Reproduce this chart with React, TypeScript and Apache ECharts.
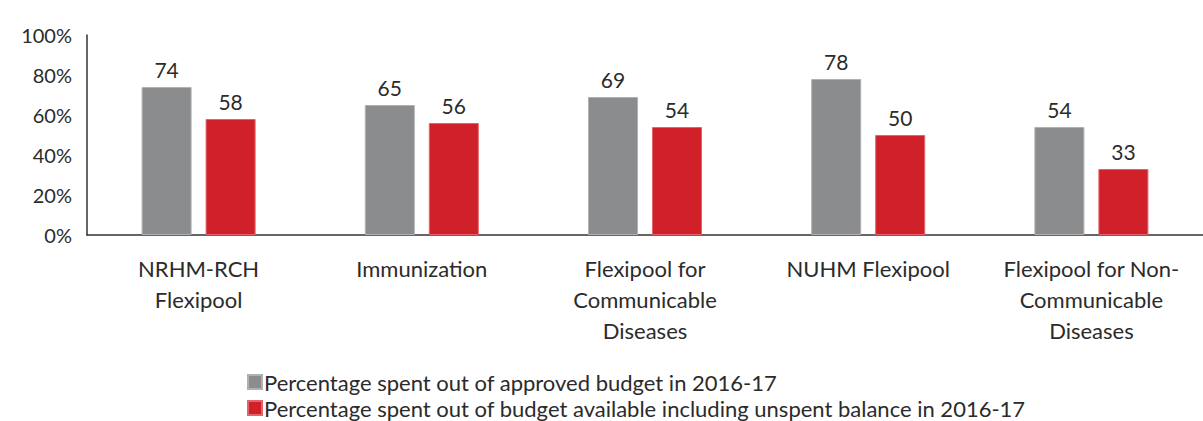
import React, { useEffect, useRef } from "react";
import * as echarts from "echarts";

const categories = [
  "NRHM-RCH\nFlexipool",
  "Immunization",
  "Flexipool for\nCommunicable\nDiseases",
  "NUHM Flexipool",
  "Flexipool for Non-\nCommunicable\nDiseases",
];
const approvedSpent = [74, 65, 69, 78, 54];
const availableSpent = [58, 56, 54, 50, 33];
const seriesNames = [
  "Percentage spent out of approved budget in 2016-17",
  "Percentage spent out of budget available including unspent balance in 2016-17",
];
const yTicks = [0, 20, 40, 60, 80, 100];

const FONT = "Lato, 'Noto Sans', sans-serif";
const TEXT = "#2b2b2b";

export default function App() {
  const ref = useRef<HTMLDivElement>(null);
  useEffect(() => {
    if (!ref.current) return;
    const chart = echarts.init(ref.current, undefined, { renderer: "svg" });
    const legendBase = {
      orient: "horizontal",
      left: 247,
      padding: 0,
      itemWidth: 14,
      itemHeight: 14,
      icon: "rect",
      textStyle: {
        fontFamily: FONT,
        fontSize: 22,
        lineHeight: 22,
        color: TEXT,
        padding: [0, 0, 0, -3],
      },
    };
    chart.setOption({
      animation: false,
      textStyle: { fontFamily: FONT, color: TEXT },
      grid: { left: 87, right: 0, top: 35, bottom: 186 },
      legend: [
        { ...legendBase, top: 371, data: [seriesNames[0]] },
        { ...legendBase, top: 397, data: [seriesNames[1]] },
      ],
      xAxis: {
        type: "category",
        data: categories,
        axisLine: { lineStyle: { color: "#333", width: 1.5 } },
        axisTick: { show: false },
        axisLabel: {
          fontFamily: FONT,
          fontSize: 22,
          color: TEXT,
          lineHeight: 31,
          margin: 18,
          interval: 0,
        },
      },
      yAxis: {
        type: "value",
        min: yTicks[0],
        max: yTicks[yTicks.length - 1],
        interval: 20,
        axisLine: { show: true, lineStyle: { color: "#333", width: 1.5 } },
        axisTick: { show: false },
        splitLine: { show: false },
        axisLabel: {
          fontFamily: FONT,
          fontSize: 20,
          color: TEXT,
          margin: 15,
          padding: [0, 0, 8, 0],
          formatter: (v: number) => `${v}%`,
        },
      },
      series: [
        {
          name: seriesNames[0],
          type: "bar",
          data: approvedSpent,
          barWidth: 50,
          barGap: "28%",
          itemStyle: { color: "#8b8c8e", borderColor: "#b0b1b3", borderWidth: 1 },
          label: {
            show: true,
            position: "top",
            distance: 7,
            fontFamily: FONT,
            fontSize: 21,
            color: TEXT,
          },
        },
        {
          name: seriesNames[1],
          type: "bar",
          data: availableSpent,
          barWidth: 50,
          itemStyle: { color: "#d02029", borderColor: "#e0646a", borderWidth: 1 },
          label: {
            show: true,
            position: "top",
            distance: 7,
            fontFamily: FONT,
            fontSize: 21,
            color: TEXT,
          },
        },
      ],
    });
    return () => chart.dispose();
  }, []);
  return (
    <div
      ref={ref}
      style={{ width: 1203, height: 421, position: "absolute", left: 0, top: 0, background: "#fff" }}
    />
  );
}
